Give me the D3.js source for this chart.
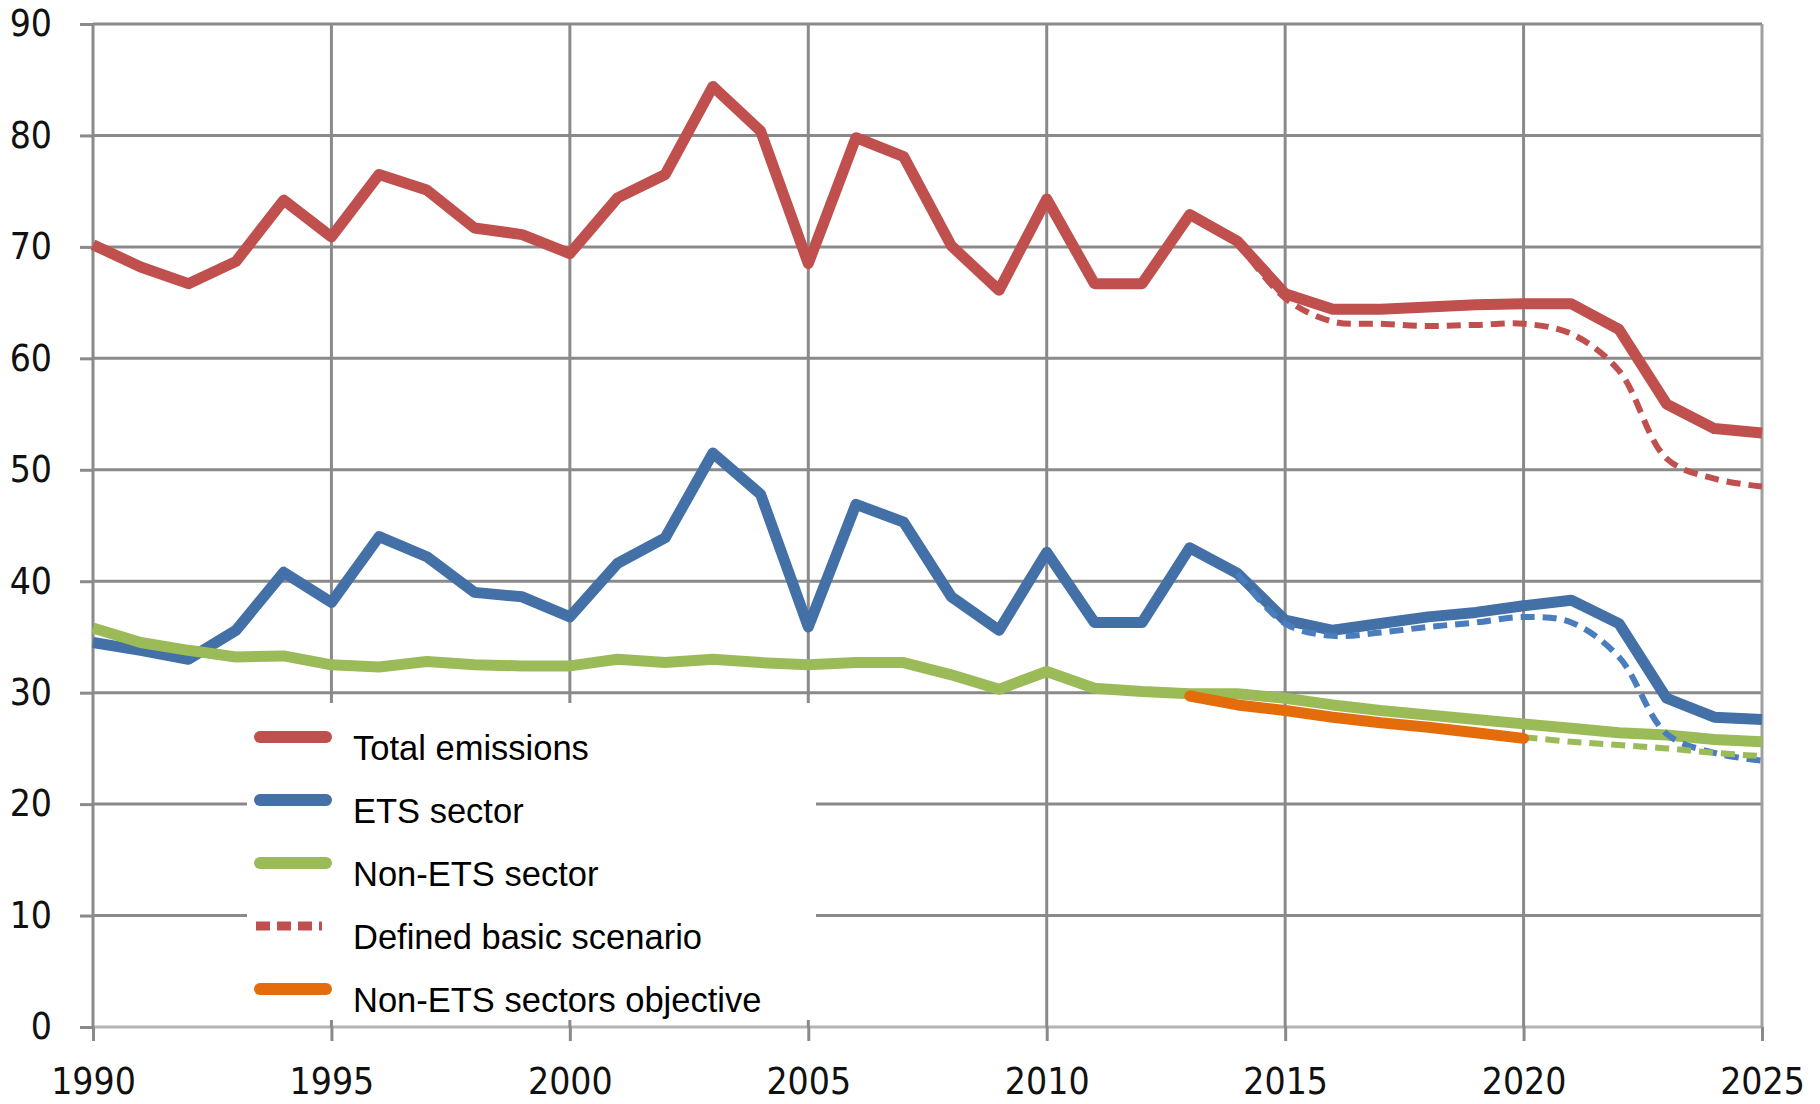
<!DOCTYPE html>
<html>
<head>
<meta charset="utf-8">
<script src="https://cdn.jsdelivr.net/npm/d3@7"></script>
<style>
  body { margin: 0; background: #fff; }
  svg { display: block; }
</style>
</head>
<body>
<svg width="1820" height="1104"></svg>
<script>
// values (Mt CO2 eq.)
const years = [1990, 1991, 1992, 1993, 1994, 1995, 1996, 1997, 1998, 1999,
  2000, 2001, 2002, 2003, 2004, 2005, 2006, 2007, 2008, 2009,
  2010, 2011, 2012, 2013, 2014, 2015, 2016, 2017, 2018, 2019,
  2020, 2021, 2022, 2023, 2024, 2025];
const total = [70.2, 68.2, 66.7, 68.7, 74.2, 70.9, 76.5, 75.1, 71.7, 71.1,
  69.4, 74.4, 76.5, 84.4, 80.4, 68.5, 79.8, 78.1, 70.1, 66.1,
  74.3, 66.7, 66.7, 72.9, 70.5, 65.8, 64.4, 64.4, 64.6, 64.8,
  64.9, 64.9, 62.6, 55.9, 53.7, 53.3];
const ets = [34.5, 33.8, 33.0, 35.6, 40.8, 38.1, 44.0, 42.2, 39.0, 38.6,
  36.8, 41.6, 43.9, 51.5, 47.8, 35.9, 46.9, 45.3, 38.6, 35.6,
  42.6, 36.3, 36.3, 43.0, 40.7, 36.5, 35.6, 36.2, 36.8, 37.2,
  37.8, 38.3, 36.2, 29.5, 27.8, 27.6];
const nonEts = [35.8, 34.5, 33.8, 33.2, 33.3, 32.5, 32.3, 32.8, 32.5, 32.4,
  32.4, 33.0, 32.7, 33.0, 32.7, 32.5, 32.7, 32.7, 31.6, 30.3,
  31.9, 30.4, 30.1, 29.9, 29.9, 29.5, 28.9, 28.4, 28.0, 27.6,
  27.2, 26.8, 26.4, 26.2, 25.8, 25.6];

// basic scenario (dashed)
const scenYears = [2014, 2015, 2016, 2017, 2018, 2019, 2020, 2021, 2022, 2023, 2024, 2025];
const scenTotal = [70.5, 65.4, 63.3, 63.1, 62.9, 63.0, 63.1, 62.2, 58.9, 51.0, 49.2, 48.5];
const scenEts = [40.7, 36.2, 35.1, 35.4, 35.9, 36.3, 36.8, 36.3, 33.2, 26.3, 24.6, 23.9];
const scenNonEtsYears = [2020, 2021, 2022, 2023, 2024, 2025];
const scenNonEts = [26.0, 25.6, 25.3, 25.0, 24.6, 24.3];

// non-ETS objective
const objYears = [2013, 2014, 2015, 2016, 2017, 2018, 2019, 2020];
const objective = [29.7, 28.9, 28.4, 27.8, 27.3, 26.9, 26.4, 25.9];

const xTicks = [1990, 1995, 2000, 2005, 2010, 2015, 2020, 2025];
const yTicks = [0, 10, 20, 30, 40, 50, 60, 70, 80, 90];

const legendItems = [
  { label: "Total emissions", color: "#c0504d", dash: null },
  { label: "ETS sector", color: "#4270a7", dash: null },
  { label: "Non-ETS sector", color: "#9bbb59", dash: null },
  { label: "Defined basic scenario", color: "#c0504d", dash: "14,7" },
  { label: "Non-ETS sectors objective", color: "#e46c0a", dash: null }
];

const svg = d3.select("svg");
const gridColor = "#8a8a8a";
const tickFont = "'Liberation Sans Narrow', 'DejaVu Sans Condensed', 'Liberation Sans', sans-serif";

const x = d3.scaleLinear().domain([1990, 2025]).range([93, 1762]);
const y = d3.scaleLinear().domain([0, 90]).range([1027, 24]);

// grid
svg.append("g")
  .selectAll("line")
  .data(yTicks)
  .enter().append("line")
  .attr("x1", x(1990)).attr("x2", x(2025))
  .attr("y1", d => y(d)).attr("y2", d => y(d))
  .attr("stroke", d => d === 0 ? "#b4b4b4" : gridColor)
  .attr("stroke-width", 3);

svg.append("g")
  .selectAll("line")
  .data(xTicks)
  .enter().append("line")
  .attr("x1", d => x(d)).attr("x2", d => x(d))
  .attr("y1", y(90)).attr("y2", y(0))
  .attr("stroke", d => d === 2025 ? "#a0a0a0" : gridColor)
  .attr("stroke-width", 3);

// axes
const yAxis = svg.append("g")
  .attr("transform", `translate(${x(1990)},0)`)
  .call(d3.axisLeft(y).tickValues(yTicks).tickSizeInner(13).tickSizeOuter(0).tickPadding(28));
const xAxis = svg.append("g")
  .attr("transform", `translate(0,${y(0)})`)
  .call(d3.axisBottom(x).tickValues(xTicks).tickFormat(d3.format("d"))
    .tickSizeInner(14).tickSizeOuter(0).tickPadding(27));

[yAxis, xAxis].forEach(g => {
  g.select(".domain").remove();
  g.selectAll(".tick line").attr("stroke", gridColor).attr("stroke-width", 3);
  g.selectAll(".tick text")
    .attr("fill", "#111")
    .style("font-family", tickFont)
    .style("font-size", "37px");
});

// lines
const line = d3.line().x(d => x(d[0])).y(d => y(d[1]));
const smooth = d3.line().x(d => x(d[0])).y(d => y(d[1])).curve(d3.curveCatmullRom.alpha(0.5));
const zip = (xs, vs) => xs.map((v, i) => [v, vs[i]]);

const plot = svg.append("g").attr("fill", "none")
  .attr("stroke-linejoin", "round");

plot.append("path").datum(zip(years, total))
  .attr("d", line).attr("stroke", "#c0504d").attr("stroke-width", 11);
plot.append("path").datum(zip(years, ets))
  .attr("d", line).attr("stroke", "#4270a7").attr("stroke-width", 11);
plot.append("path").datum(zip(years, nonEts))
  .attr("d", line).attr("stroke", "#9bbb59").attr("stroke-width", 11);

plot.append("path").datum(zip(scenYears, scenTotal))
  .attr("d", smooth).attr("stroke", "#c0504d").attr("stroke-width", 6)
  .attr("stroke-dasharray", "14,8");
plot.append("path").datum(zip(scenYears, scenEts))
  .attr("d", smooth).attr("stroke", "#4a7dbd").attr("stroke-width", 6)
  .attr("stroke-dasharray", "14,8");
plot.append("path").datum(zip(scenNonEtsYears, scenNonEts))
  .attr("d", smooth).attr("stroke", "#9bbb59").attr("stroke-width", 6)
  .attr("stroke-dasharray", "14,8");

plot.append("path").datum(zip(objYears, objective))
  .attr("d", line).attr("stroke", "#e46c0a").attr("stroke-width", 11)
  .attr("stroke-linecap", "round");

// legend
const legend = svg.append("g");
legend.append("rect")
  .attr("x", 247).attr("y", 703).attr("width", 569).attr("height", 317)
  .attr("fill", "#fff");

const items = legend.selectAll("g.item")
  .data(legendItems)
  .enter().append("g")
  .attr("class", "item")
  .attr("transform", (d, i) => `translate(0,${737 + i * 63})`);

items.append("line")
  .attr("x1", d => d.dash ? 256 : 260).attr("x2", d => d.dash ? 322 : 326)
  .attr("y1", 0).attr("y2", 0)
  .attr("stroke", d => d.color)
  .attr("stroke-width", d => d.dash ? 9 : 12)
  .attr("stroke-linecap", d => d.dash ? "butt" : "round")
  .attr("stroke-dasharray", d => d.dash);

items.append("text")
  .attr("x", 353).attr("y", 23)
  .attr("fill", "#000")
  .style("font-family", "'Liberation Sans', Arial, sans-serif")
  .style("font-size", "34.5px")
  .text(d => d.label);
</script>
</body>
</html>
